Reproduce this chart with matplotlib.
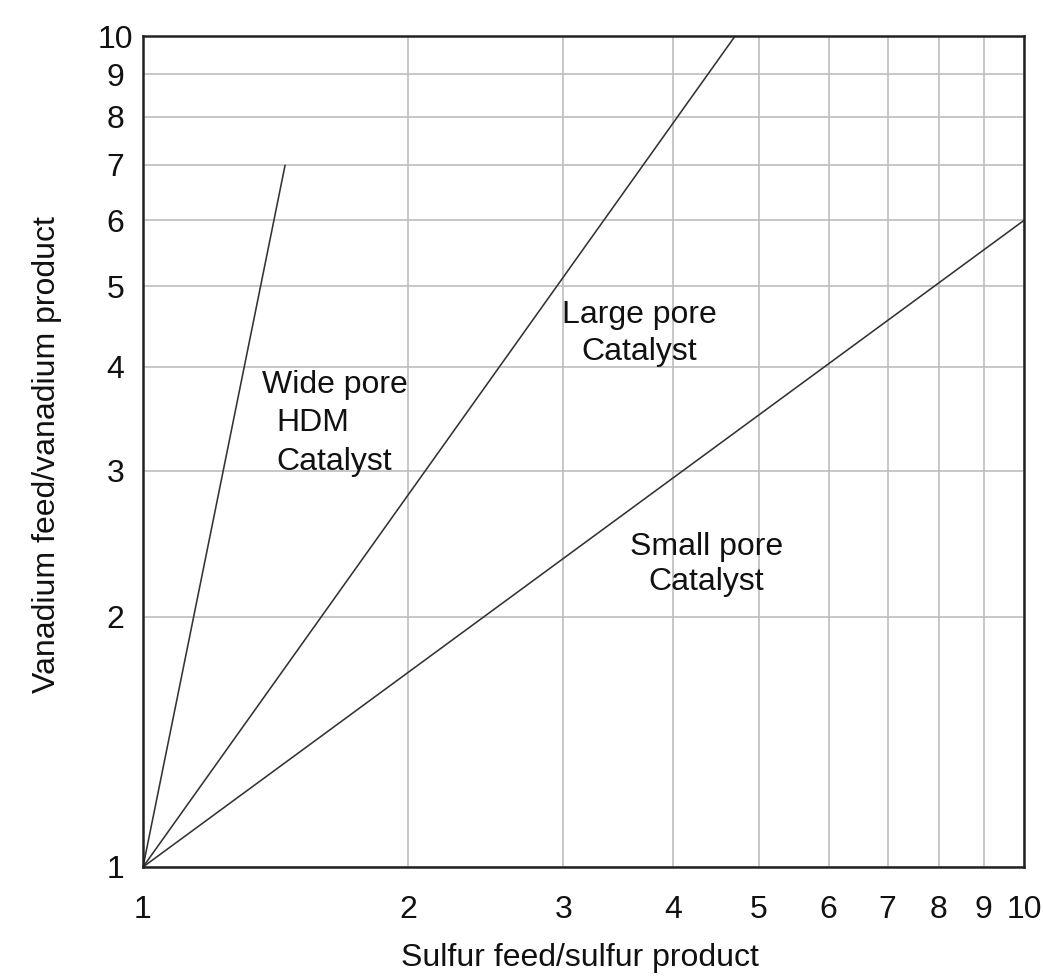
import matplotlib
matplotlib.use("Agg")
import matplotlib.pyplot as plt
from matplotlib.ticker import FixedLocator, NullLocator, FixedFormatter

plt.rcParams['font.family'] = ['Liberation Sans', 'DejaVu Sans']

# Axis ticks (log-log, one decade each way)
tick_values = [1, 2, 3, 4, 5, 6, 7, 8, 9, 10]
x_tick_labels = ['1', '2', '3', '4', '5', '6', '7', '8', '9', '10']
y_tick_labels = ['1', '2', '3', '4', '5', '6', '7', '8', '9', '10']

# Catalyst lines: start/end points (sulfur ratio, vanadium ratio)
wide_pore_x = [1.0, 1.45]
wide_pore_y = [1.0, 7.0]
large_pore_x = [1.0, 4.7]
large_pore_y = [1.0, 10.0]
small_pore_x = [1.0, 10.0]
small_pore_y = [1.0, 6.0]

# Label text lines and anchor points (data coordinates)
label_lines = ['Wide pore', 'HDM', 'Catalyst',
               'Large pore', 'Catalyst',
               'Small pore', 'Catalyst']
label_x = [1.65, 1.56, 1.65, 3.66, 3.66, 4.36, 4.36]
label_y = [3.80, 3.42, 3.07, 4.62, 4.17, 2.43, 2.20]

fig = plt.figure(figsize=(10.43, 9.77), dpi=100)
ax = fig.add_axes([143 / 1043, 110 / 977, 881 / 1043, 831 / 977])

ax.set_xscale('log')
ax.set_yscale('log')
ax.set_xlim(1, 10)
ax.set_ylim(1, 10)

for axis, labels in ((ax.xaxis, x_tick_labels), (ax.yaxis, y_tick_labels)):
    axis.set_major_locator(FixedLocator(tick_values))
    axis.set_major_formatter(FixedFormatter(labels))
    axis.set_minor_locator(NullLocator())

ax.grid(True, which='major', color='#bdbdbd', linewidth=1.2)
ax.set_axisbelow(True)
ax.tick_params(axis='both', length=0, labelsize=23, colors='#111111')
ax.tick_params(axis='x', pad=20)
ax.tick_params(axis='y', pad=20)
for lbl in ax.get_yticklabels():
    lbl.set_horizontalalignment('center')

for spine in ax.spines.values():
    spine.set_linewidth(1.8)
    spine.set_color('#222222')
    spine.set_zorder(5)

line_kw = dict(color='#333333', linewidth=1.15, solid_capstyle='butt', clip_on=False)
ax.plot(wide_pore_x, wide_pore_y, **line_kw)
ax.plot(large_pore_x, large_pore_y, **line_kw)
ax.plot(small_pore_x, small_pore_y, **line_kw)

for text, x, y in zip(label_lines, label_x, label_y):
    ax.text(x, y, text, fontsize=23, ha='center', va='center', color='#111111')

ax.set_xlabel('Sulfur feed/sulfur product', fontsize=23, color='#111111', va='center')
ax.xaxis.set_label_coords(0.496, -0.11)
ax.set_ylabel('Vanadium feed/vanadium product', fontsize=23, color='#111111', va='center')
ax.yaxis.set_label_coords(-0.109, 0.496)

fig.savefig('out.png', dpi=100, facecolor='white')
